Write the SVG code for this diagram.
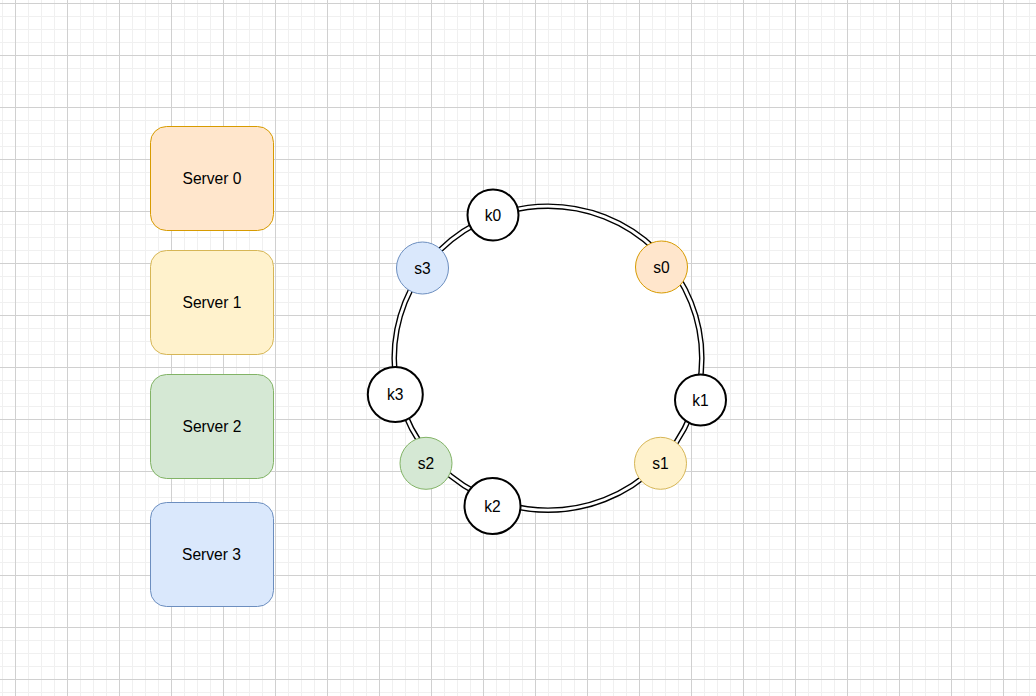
<svg xmlns="http://www.w3.org/2000/svg" width="1036" height="696" viewBox="0 0 1036 696">
  <defs>
    <pattern id="minor" x="2" y="3" width="13" height="13" patternUnits="userSpaceOnUse">
      <path d="M0.5 0 V13 M0 0.5 H13" stroke="#f0f0f0" stroke-width="1" fill="none"/>
    </pattern>
    <pattern id="major" x="15" y="3" width="52" height="52" patternUnits="userSpaceOnUse">
      <path d="M0.5 0 V52 M0 0.5 H52" stroke="#d0d0d0" stroke-width="1" fill="none"/>
    </pattern>
  </defs>
  <style>
    text { font-family: "Liberation Sans", Arial, Helvetica, sans-serif; font-size: 15.6px; fill: #000000; text-anchor: middle; dominant-baseline: central; }
    .srv { stroke-width: 1; }
    .k { fill: #ffffff; stroke: #000000; stroke-width: 2; }
    .s { stroke-width: 1; }
    .orange { fill: #ffe6cc; stroke: #d79b00; }
    .yellow { fill: #fff2cc; stroke: #d6b656; }
    .green { fill: #d5e8d4; stroke: #82b366; }
    .blue { fill: #dae8fc; stroke: #6c8ebf; }
  </style>

  <rect x="0" y="0" width="1036" height="696" fill="#ffffff"/>
  <rect x="0" y="0" width="1036" height="696" fill="url(#minor)"/>
  <rect x="0" y="0" width="1036" height="696" fill="url(#major)"/>

  <g id="server0">
    <rect class="srv orange" x="150.5" y="126.5" width="123" height="104" rx="16" ry="16"/>
    <text x="212" y="178.5">Server 0</text>
  </g>
  <g id="server1">
    <rect class="srv yellow" x="150.5" y="250.5" width="123" height="104" rx="16" ry="16"/>
    <text x="212" y="302">Server 1</text>
  </g>
  <g id="server2">
    <rect class="srv green" x="150.5" y="374.5" width="123" height="104" rx="16" ry="16"/>
    <text x="212" y="426">Server 2</text>
  </g>
  <g id="server3">
    <rect class="srv blue" x="150.5" y="502.5" width="123" height="104" rx="16" ry="16"/>
    <text x="211.5" y="554">Server 3</text>
  </g>

  <g id="connectors">
    <ellipse cx="548" cy="358.2" rx="153.8" ry="152" fill="#ffffff" stroke="#000000" stroke-width="5.6"/>
    <ellipse cx="548" cy="358.2" rx="153.8" ry="152" fill="none" stroke="#ffffff" stroke-width="2.8"/>
  </g>

  <g id="k0">
    <circle class="k" cx="493" cy="215" r="25.5"/>
    <text x="493" y="215">k0</text>
  </g>
  <g id="s0">
    <circle class="s orange" cx="661.5" cy="267" r="26"/>
    <text x="661.5" y="267">s0</text>
  </g>
  <g id="k1">
    <circle class="k" cx="700.5" cy="400" r="25.5"/>
    <text x="700.5" y="400">k1</text>
  </g>
  <g id="s1">
    <circle class="s yellow" cx="660.5" cy="463.3" r="26"/>
    <text x="660.5" y="463.3">s1</text>
  </g>
  <g id="k2">
    <circle class="k" cx="492.5" cy="506" r="28"/>
    <text x="492.5" y="506">k2</text>
  </g>
  <g id="s2">
    <circle class="s green" cx="426" cy="463.3" r="26"/>
    <text x="426" y="463.3">s2</text>
  </g>
  <g id="k3">
    <circle class="k" cx="395.3" cy="394.5" r="27.5"/>
    <text x="395.3" y="394.5">k3</text>
  </g>
  <g id="s3">
    <circle class="s blue" cx="422.5" cy="268" r="26"/>
    <text x="422.5" y="268">s3</text>
  </g>
</svg>
